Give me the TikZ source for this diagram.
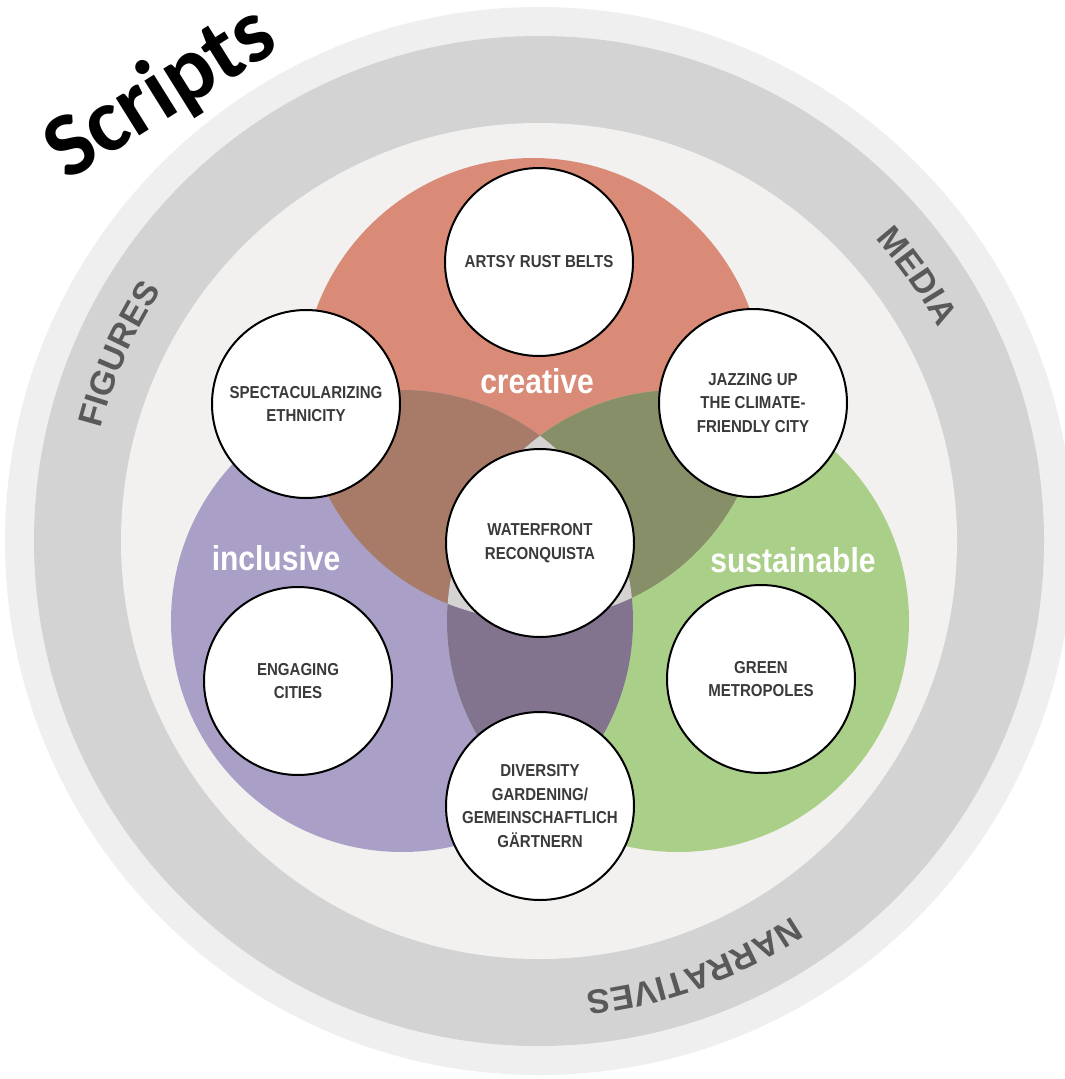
\documentclass[tikz,border=0pt]{standalone}
\usepackage{fontspec}
\setmainfont{Liberation Sans}
\newfontfamily\narrowfont{Liberation Sans}[FakeStretch=0.87]
\newfontfamily\carlitofont{Carlito}
\usetikzlibrary{decorations.text}
\definecolor{outerring}{HTML}{EFEFEF}
\definecolor{band}{HTML}{D4D3D4}
\definecolor{innerbg}{HTML}{F2F1F0}
\definecolor{salmon}{HTML}{D98B77}
\definecolor{lavender}{HTML}{A99FC7}
\definecolor{leaf}{HTML}{AACF88}
\definecolor{brownmix}{HTML}{A87B68}
\definecolor{olivemix}{HTML}{878F69}
\definecolor{plummix}{HTML}{82738E}
\definecolor{triplemix}{HTML}{D5D3D1}
\definecolor{bubtext}{HTML}{3A3A3A}
\definecolor{ringtext}{HTML}{595959}
\newcommand\bubtextfont{\narrowfont\bfseries\fontsize{17.3}{23.5}\selectfont}
\newcommand\vennlabelfont{\narrowfont\bfseries\fontsize{34.5}{36}\selectfont}
\newcommand\ringtextfont{\bfseries\fontsize{34}{34}\selectfont\color{ringtext}}
\newcommand\scriptsfnt{\carlitofont\bfseries\fontsize{91}{91}\selectfont}
\tikzset{
  bubble/.style={circle, draw=black, line width=2pt, fill=white, minimum size=188pt,
    inner sep=0pt, align=center, font=\bubtextfont, text=bubtext},
  vennlabel/.style={font=\vennlabelfont, text=white, anchor=base, inner sep=0pt},
  ringlabel/.style={decorate, decoration={text along path, text align=center, text={|\ringtextfont|#1}}}
}
\begin{document}
\begin{tikzpicture}[x=1pt,y=-1pt]
\useasboundingbox (0,0) rectangle (1065,1079);
\clip (0,0) rectangle (1065,1079);
\fill[white] (0,0) rectangle (1065,1079);
\coordinate (O) at (539,541);
% rings
\fill[outerring] (O) circle[radius=534];
\fill[band] (O) circle[radius=505];
\fill[innerbg] (O) circle[radius=418];
% ring labels
\path[ringlabel=FIGURES] (O) ++(-181:452.5) arc[start angle=-181, end angle=-131, radius=452.5];
\path[ringlabel=MEDIA] (O) ++(-60:452.5) arc[start angle=-60, end angle=-10, radius=452.5];
\path[ringlabel=NARRATIVES] (O) ++(40:452.5) arc[start angle=40, end angle=100, radius=452.5];
% venn circles
\coordinate (cC) at (533,389);
\coordinate (cI) at (402,621);
\coordinate (cS) at (678,621);
\fill[salmon] (cC) circle[radius=231];
\fill[lavender] (cI) circle[radius=231];
\fill[leaf] (cS) circle[radius=231];
\begin{scope}
  \clip (cC) circle[radius=231];
  \fill[brownmix] (cI) circle[radius=231];
  \fill[olivemix] (cS) circle[radius=231];
\end{scope}
\begin{scope}
  \clip (cI) circle[radius=231];
  \fill[plummix] (cS) circle[radius=231];
\end{scope}
\begin{scope}
  \clip (cC) circle[radius=231];
  \clip (cI) circle[radius=231];
  \fill[triplemix] (cS) circle[radius=231];
\end{scope}
% labels of sets
\node[vennlabel] (creative) at (537,393) {creative};
\node[vennlabel] (inclusive) at (276,570) {inclusive};
\node[vennlabel] (sustainable) at (793,572) {sustainable};
% bubbles
\node[bubble] (artsy) at (539,262) {ARTSY RUST BELTS};
\node[bubble] (spect) at (306,404) {SPECTACULARIZING\\ETHNICITY};
\node[bubble] (jazz) at (753,403) {JAZZING UP\\THE CLIMATE-\\FRIENDLY CITY};
\node[bubble] (water) at (540,543) {WATERFRONT\\RECONQUISTA};
\node[bubble] (engage) at (298,681) {ENGAGING\\CITIES};
\node[bubble] (green) at (761,679) {GREEN\\METROPOLES};
\node[bubble] (divers) at (540,806) {DIVERSITY\\GARDENING/\\GEMEINSCHAFTLICH\\GÄRTNERN};
% title
\node[font=\scriptsfnt, anchor=base, rotate=32, inner sep=0pt] (scripts) at (174,115) {Scripts};
\end{tikzpicture}
\end{document}
